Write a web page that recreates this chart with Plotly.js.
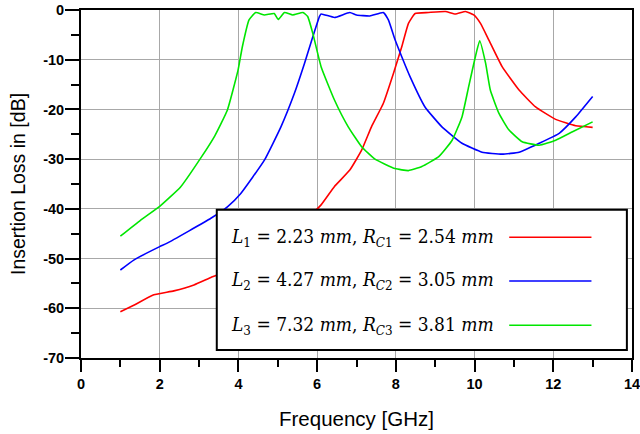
<!DOCTYPE html>
<html>
<head>
<meta charset="utf-8">
<script src="https://cdn.plot.ly/plotly-3.0.1.min.js"></script>
<style>
  html, body { margin: 0; padding: 0; background: #fff; }
  #graph { width: 640px; height: 434px; }
</style>
</head>
<body>
<div id="graph"></div>
<script>
// L1 = 2.23 mm (red)
var freq_L1 = [1, 1.34, 1.85, 2.36, 2.87, 3.3, 4, 5, 5.6, 6.1, 6.44, 6.83, 7.13, 7.38, 7.68, 7.94, 8.15, 8.32, 8.49,
  8.83, 9.26, 9.51, 9.77, 9.98, 10.15, 10.36, 10.7, 11.13, 11.55, 12.06, 12.57, 13];
var loss_L1 = [-60.7, -59.4, -57.3, -56.5, -55.3, -53.8, -51.5, -47, -43, -39.2, -35.5, -32.2, -28.2, -23.5, -18.8, -12.7, -7.4, -2.7, -0.7,
  -0.5, -0.3, -0.8, -0.3, -1.0, -2.7, -6, -11.4, -16.1, -19.5, -22.0, -23.3, -23.6];

// L2 = 4.27 mm (blue)
var freq_L2 = [1, 1.34, 2, 2.19, 3.3, 3.72, 4.06, 4.66, 5.08, 5.42, 5.68, 5.89, 6.06, 6.1, 6.44, 6.83, 7.0, 7.34, 7.68,
  7.81, 7.98, 8.15, 8.36, 8.74, 9.17, 9.68, 10.19, 10.7, 11.13, 11.64, 12.15, 12.57, 13];
var loss_L2 = [-52.3, -50.3, -47.6, -46.9, -41.9, -39.6, -36.9, -30.2, -23.5, -16.8, -10.7, -5.4, -1.3, -0.8, -1.5, -0.5, -1.0, -1.2, -0.5,
  -2.0, -6, -9.4, -13.4, -19.5, -23.5, -26.8, -28.6, -29.0, -28.6, -26.8, -24.8, -21.5, -17.4];

// L3 = 7.32 mm (green)
var freq_L3 = [1, 1.51, 2, 2.53, 3.04, 3.4, 3.72, 3.99, 4.1, 4.27, 4.44, 4.66, 4.91, 5.01, 5.17, 5.38, 5.64, 5.76, 5.89, 6.1,
  6.44, 6.79, 7.13, 7.47, 7.98, 8.32, 8.66, 9.09, 9.43, 9.68, 9.85, 10.02, 10.13, 10.28, 10.4, 10.62, 10.87,
  11.21, 11.64, 12.06, 12.49, 13];
var loss_L3 = [-45.5, -42.3, -39.5, -35.6, -29.8, -25.3, -20.1, -12.1, -7.4, -2, -0.5, -1.0, -0.7, -1.9, -0.5, -1.0, -0.5, -1.3, -4.7, -11.4,
  -18.1, -23.5, -27.5, -30.0, -31.9, -32.3, -31.5, -29.5, -26.2, -21.5, -15.4, -9.4, -6.2, -10.7, -16.1, -20.8, -24.1,
  -26.5, -27.2, -26.2, -24.5, -22.5];

var series_labels = [
  '<i>L</i><sub>1</sub> = 2.23 <i>mm</i>, <i>R</i><sub><i>C</i>1</sub> = 2.54 <i>mm</i>',
  '<i>L</i><sub>2</sub> = 4.27 <i>mm</i>, <i>R</i><sub><i>C</i>2</sub> = 3.05 <i>mm</i>',
  '<i>L</i><sub>3</sub> = 7.32 <i>mm</i>, <i>R</i><sub><i>C</i>3</sub> = 3.81 <i>mm</i>'
];
var series_colors = ['#ff0000', '#0000ff', '#00e600'];

// tick labels use a plain hyphen like the original
var x_tickvals = [0, 2, 4, 6, 8, 10, 12, 14];
var x_ticktext = ['0', '2', '4', '6', '8', '10', '12', '14'];
var y_tickvals = [-70, -60, -50, -40, -30, -20, -10, 0];
var y_ticktext = ['-70', '-60', '-50', '-40', '-30', '-20', '-10', '0'];

var xs = [freq_L1, freq_L2, freq_L3];
var ys = [loss_L1, loss_L2, loss_L3];

var data = [];
for (let i = 0; i < 3; i++) {
  data.push({
    x: xs[i],
    y: ys[i],
    mode: 'lines',
    type: 'scatter',
    line: {color: series_colors[i], width: 1.6, shape: 'spline', smoothing: 0.4},
    hoverinfo: 'none'
  });
}

// legend box drawn by hand: the line sample sits after the text
var shapes = [{
  type: 'rect', xref: 'x', yref: 'y', layer: 'above',
  x0: 3.45, x1: 13.87, y0: -68.4, y1: -40.2,
  line: {color: '#000', width: 2}, fillcolor: '#fff'
}];
var annotations = [];
var rowY = [-45.7, -54.5, -63.4];
for (let i = 0; i < 3; i++) {
  shapes.push({
    type: 'line', xref: 'x', yref: 'y', layer: 'above',
    x0: 10.88, x1: 12.97, y0: rowY[i], y1: rowY[i],
    line: {color: series_colors[i], width: 1.6}
  });
  annotations.push({
    xref: 'x', yref: 'y', x: 3.75, y: rowY[i],
    xanchor: 'left', yanchor: 'middle', showarrow: false,
    text: series_labels[i],
    font: {family: 'DejaVu Serif Condensed, DejaVu Serif, serif', size: 19, color: '#000'}
  });
}

var axisFont = {family: 'Liberation Sans, Arial, sans-serif', size: 14.5, color: '#000'};
function bold(arr) { return arr.map(function (t) { return '<b>' + t + '</b>'; }); }

var layout = {
  width: 640,
  height: 434,
  margin: {l: 81, r: 8, t: 10, b: 76},
  paper_bgcolor: '#fff',
  plot_bgcolor: '#fff',
  showlegend: false,
  font: {family: 'Liberation Sans, Arial, sans-serif', color: '#000'},
  xaxis: {
    range: [0, 14],
    tickmode: 'array',
    tickvals: x_tickvals,
    ticktext: bold(x_ticktext),
    ticklabeloverflow: 'allow',
    ticks: 'outside',
    ticklen: 12,
    tickwidth: 2,
    tickcolor: '#000',
    tickfont: axisFont,
    showline: true,
    linecolor: '#000',
    linewidth: 2,
    mirror: true,
    showgrid: true,
    gridcolor: '#a8a8a8',
    gridwidth: 1,
    zeroline: false,
    minor: {dtick: 1, tick0: 0, ticks: 'outside', ticklen: 7, tickwidth: 2, tickcolor: '#000', showgrid: false},
    title: {text: 'Frequency [GHz]', font: {size: 20.5, color: '#000'}, standoff: 20}
  },
  yaxis: {
    range: [-70, 0],
    tickmode: 'array',
    tickvals: y_tickvals,
    ticktext: bold(y_ticktext),
    ticklabeloverflow: 'allow',
    ticks: 'outside',
    ticklen: 14,
    tickwidth: 2,
    tickcolor: '#000',
    tickfont: axisFont,
    ticklabelstandoff: -2,
    showline: true,
    linecolor: '#000',
    linewidth: 2,
    mirror: true,
    showgrid: true,
    gridcolor: '#a8a8a8',
    gridwidth: 1,
    zeroline: false,
    minor: {dtick: 5, tick0: 0, ticks: 'outside', ticklen: 8, tickwidth: 2, tickcolor: '#000', showgrid: false},
    title: {text: 'Insertion Loss in [dB]', font: {size: 19.5, color: '#000'}, standoff: 12}
  },
  shapes: shapes,
  annotations: annotations
};

Plotly.newPlot('graph', data, layout, {staticPlot: true, displayModeBar: false});
</script>
</body>
</html>
